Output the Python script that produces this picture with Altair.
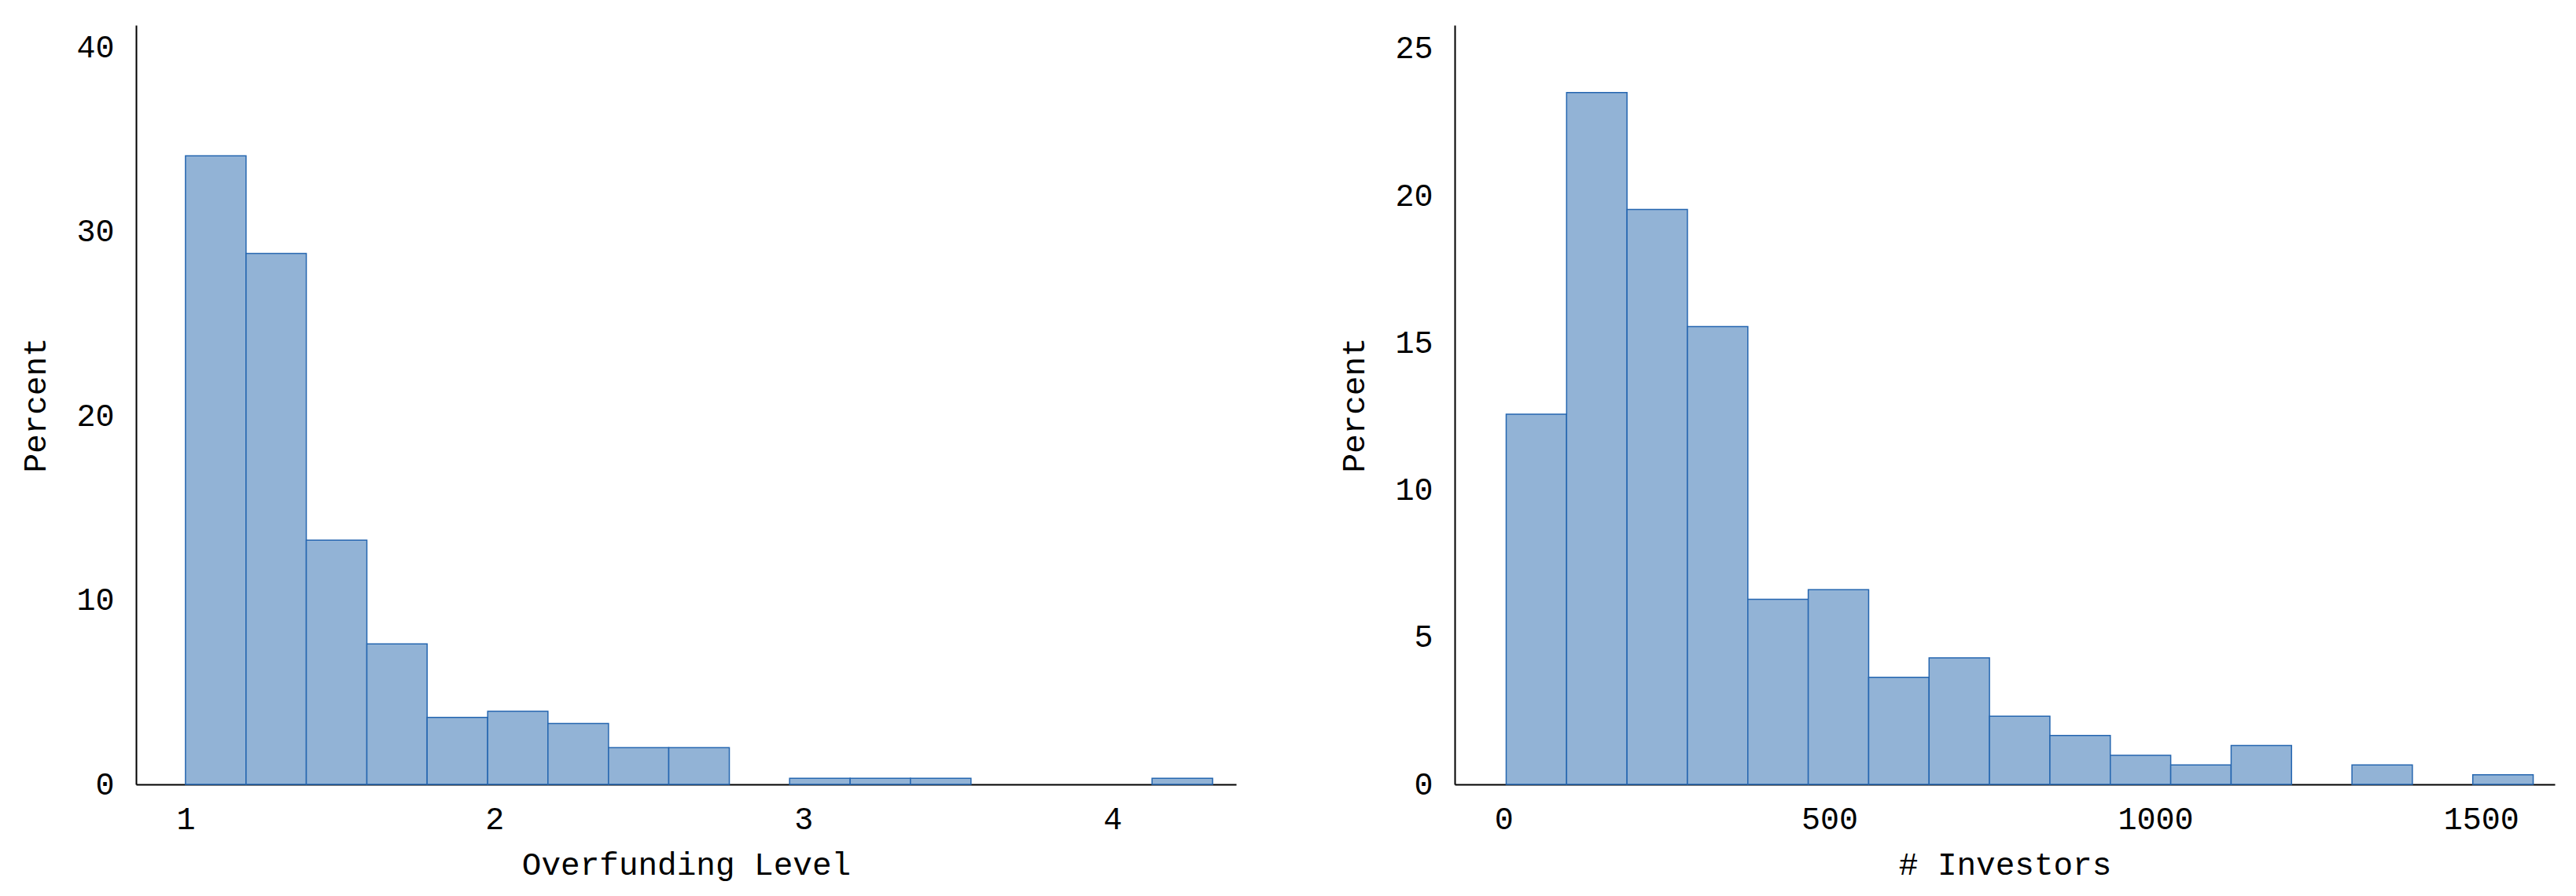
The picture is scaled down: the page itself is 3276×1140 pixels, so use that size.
import altair as alt
import pandas as pd

# Left histogram: Overfunding Level
over_edges = [1.000, 1.196, 1.391, 1.587, 1.782, 1.978, 2.173, 2.369, 2.564,
              2.760, 2.955, 3.151, 3.346, 3.542, 3.737, 3.933, 4.128, 4.324]
over_pct = [34.11, 28.81, 13.25, 7.62, 3.64, 3.97, 3.31, 1.99, 1.99,
            0.0, 0.33, 0.33, 0.33, 0.0, 0.0, 0.0, 0.33]

# Right histogram: # Investors
inv_edges = [4.0, 96.7, 189.4, 282.1, 374.8, 467.5, 560.2, 652.9, 745.6,
             838.3, 931.0, 1023.7, 1116.4, 1209.1, 1301.8, 1394.5, 1487.2, 1579.9]
inv_pct = [12.58, 23.51, 19.54, 15.56, 6.29, 6.62, 3.64, 4.30, 2.32,
           1.66, 0.99, 0.66, 1.32, 0.0, 0.66, 0.0, 0.33]

left_ticks = [1, 2, 3, 4]
left_yticks = [0, 10, 20, 30, 40]
right_ticks = [0, 500, 1000, 1500]
right_yticks = [0, 5, 10, 15, 20, 25]


def frame(edges, pct):
    rows = []
    for i, p in enumerate(pct):
        if p > 0:
            rows.append({"lo": edges[i], "hi": edges[i + 1], "pct": p})
    return pd.DataFrame(rows)


FONT = "Courier New, Liberation Mono, monospace"
FILL = "#92b3d6"
EDGE = "#2566b0"


def panel(df, xtitle, xdom, ydom, xt, yt):
    xaxis = alt.Axis(values=xt, title=xtitle, grid=False, ticks=False, tickSize=0,
                     format="d",
                     labelPadding=24, titlePadding=18, domainColor="black",
                     domainWidth=2, labelFont=FONT, titleFont=FONT,
                     labelFontSize=40, titleFontSize=41, labelColor="black",
                     titleColor="black", titleFontWeight="normal", labelFlush=False)
    yaxis = alt.Axis(values=yt, title="Percent", grid=False, ticks=False, tickSize=0,
                     format="d",
                     labelPadding=28, titlePadding=30, domainColor="black",
                     domainWidth=2, labelFont=FONT, titleFont=FONT,
                     labelFontSize=40, titleFontSize=41, labelColor="black",
                     titleColor="black", titleFontWeight="normal", labelFlush=False)
    return alt.Chart(df).mark_rect(fill=FILL, stroke=EDGE, strokeWidth=1.5).encode(
        x=alt.X("lo:Q", scale=alt.Scale(domain=xdom, nice=False, zero=False), axis=xaxis),
        x2="hi:Q",
        y=alt.Y("pct:Q", scale=alt.Scale(domain=ydom, nice=False), axis=yaxis),
        y2=alt.datum(0),
    ).properties(width=1399, height=966)


left = panel(frame(over_edges, over_pct), "Overfunding Level", [0.84, 4.40], [0, 41.2],
             left_ticks, left_yticks)
right = panel(frame(inv_edges, inv_pct), "# Investors", [-75, 1613], [0, 25.8],
              right_ticks, right_yticks)

chart = alt.hconcat(left, right, spacing=129).properties(
    padding={"left": 16, "top": 24, "right": 5, "bottom": 5},
    background="white",
).configure_view(strokeWidth=0)

chart.save("out.html", embed_options={"renderer": "svg", "actions": False})
